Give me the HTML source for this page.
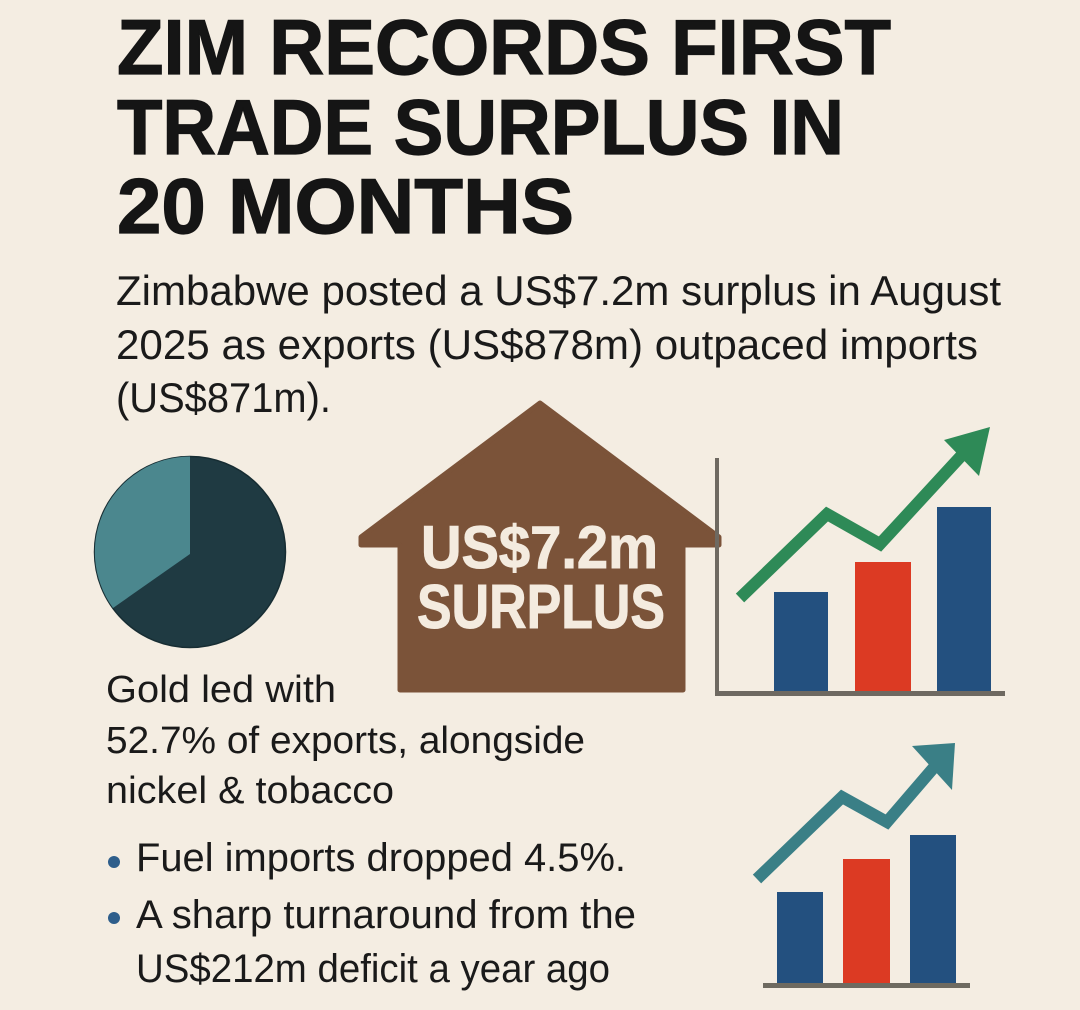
<!DOCTYPE html>
<html>
<head>
<meta charset="utf-8">
<style>
  html,body{margin:0;padding:0;background:#f4ede2;}
  svg{display:block;}
  text{font-family:"Liberation Sans", Arial, sans-serif;}
</style>
</head>
<body>
<svg width="1080" height="1010" viewBox="0 0 1080 1010" xmlns="http://www.w3.org/2000/svg">
  <rect x="0" y="0" width="1080" height="1010" fill="#f4ede2"/>

  <!-- Title -->
  <g fill="#151515" stroke="#151515" stroke-width="1.2" font-weight="bold" font-size="78">
    <text x="117" y="74" textLength="774" lengthAdjust="spacingAndGlyphs">ZIM RECORDS FIRST</text>
    <text x="117" y="154" textLength="727" lengthAdjust="spacingAndGlyphs">TRADE SURPLUS IN</text>
    <text x="117" y="233" textLength="457" lengthAdjust="spacingAndGlyphs">20 MONTHS</text>
  </g>

  <!-- Subtitle -->
  <g fill="#1a1a1a" font-size="42">
    <text x="116" y="305" textLength="885" lengthAdjust="spacingAndGlyphs">Zimbabwe posted a US$7.2m surplus in August</text>
    <text x="116" y="359" textLength="862" lengthAdjust="spacingAndGlyphs">2025 as exports (US$878m) outpaced imports</text>
    <text x="116" y="412" textLength="215" lengthAdjust="spacingAndGlyphs">(US$871m).</text>
  </g>

  <!-- Pie -->
  <circle cx="190" cy="552" r="95.5" fill="#1f3a42" stroke="#172d33" stroke-width="1.5"/>
  <path d="M190,554 L190,456.5 A95.5,95.5 0 0 0 113,608 Z" fill="#4b878e"/>

  <!-- House -->
  <path d="M540,403 L719,537 L719,545 L683,545 L683,690 L400,690 L400,545 L361,545 L361,537 Z"
        fill="#7b5339" stroke="#7b5339" stroke-width="5" stroke-linejoin="round"/>
  <g fill="#f4ebdf" stroke="#f4ebdf" stroke-width="1" font-weight="bold">
    <text x="421" y="568" font-size="60" textLength="237" lengthAdjust="spacingAndGlyphs">US$7.2m</text>
    <text x="417" y="628" font-size="62" textLength="248" lengthAdjust="spacingAndGlyphs">SURPLUS</text>
  </g>

  <!-- Chart 1 -->
  <rect x="715" y="458" width="4" height="237" fill="#6e6961"/>
  <rect x="715" y="691" width="290" height="5" fill="#6e6961"/>
  <rect x="774" y="592" width="54" height="99" fill="#23507f"/>
  <rect x="855" y="562" width="56" height="129" fill="#dc3a23"/>
  <rect x="937" y="507" width="54" height="184" fill="#23507f"/>
  <polyline points="740,598 827,514 880,544 962,455" fill="none" stroke="#2e8a57" stroke-width="12" stroke-linejoin="miter" stroke-linecap="butt"/>
  <polygon points="944,440 990,427 979,476" fill="#2e8a57"/>

  <!-- Left text -->
  <g fill="#1a1a1a" font-size="38">
    <text x="106" y="702" textLength="230" lengthAdjust="spacingAndGlyphs">Gold led with</text>
    <text x="106" y="753" textLength="479" lengthAdjust="spacingAndGlyphs">52.7% of exports, alongside</text>
    <text x="106" y="803" textLength="288" lengthAdjust="spacingAndGlyphs">nickel &amp; tobacco</text>
  </g>
  <circle cx="114" cy="862" r="6" fill="#2e5e8b"/>
  <circle cx="114" cy="918" r="6" fill="#2e5e8b"/>
  <g fill="#1a1a1a" font-size="40">
    <text x="136" y="871" textLength="490" lengthAdjust="spacingAndGlyphs">Fuel imports dropped 4.5%.</text>
    <text x="136" y="928" textLength="500" lengthAdjust="spacingAndGlyphs">A sharp turnaround from the</text>
    <text x="136" y="982" textLength="474" lengthAdjust="spacingAndGlyphs">US$212m deficit a year ago</text>
  </g>

  <!-- Chart 2 -->
  <rect x="777" y="892" width="46" height="91" fill="#23507f"/>
  <rect x="843" y="859" width="47" height="124" fill="#dc3a23"/>
  <rect x="910" y="835" width="46" height="148" fill="#23507f"/>
  <rect x="763" y="983" width="207" height="5" fill="#6e6a60"/>
  <polyline points="757,879 842,797 887,822 936,765" fill="none" stroke="#3a7f86" stroke-width="12" stroke-linejoin="miter" stroke-linecap="butt"/>
  <polygon points="912,746 955,743 952,790" fill="#3a7f86"/>
</svg>
</body>
</html>
